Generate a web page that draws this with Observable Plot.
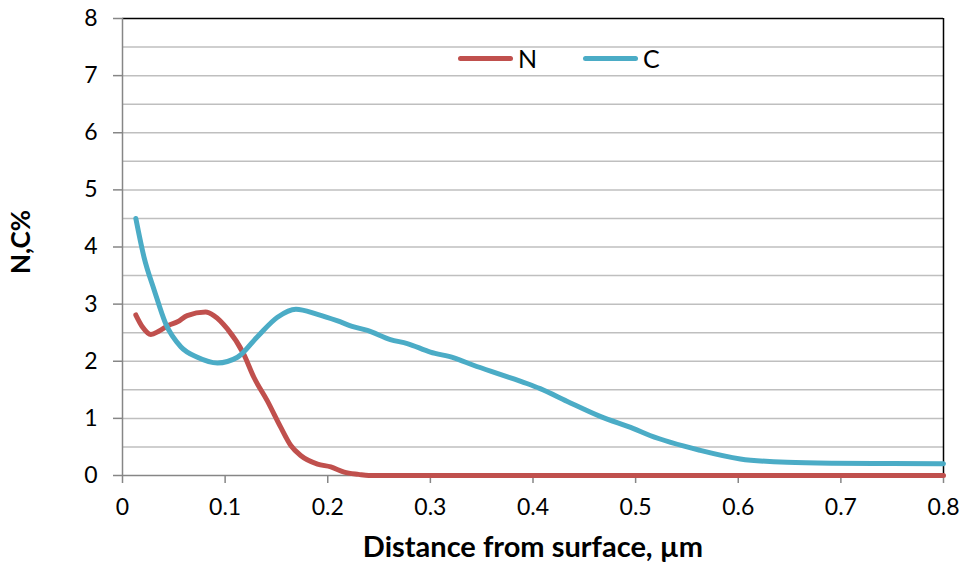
<!DOCTYPE html>
<html>
<head>
<meta charset="utf-8">
<script src="https://cdn.jsdelivr.net/npm/d3@7"></script>
<script src="https://cdn.jsdelivr.net/npm/@observablehq/plot@0.6"></script>
<style>
  html, body { margin: 0; padding: 0; background: #fff; }
  #wrap { position: relative; width: 963px; height: 574px; font-family: Lato, "Open Sans", sans-serif; }
  #legend { position: absolute; top: 43px; left: 458px; display: flex; align-items: center; font-size: 25px; line-height: 30px; color: #000; }
  #legend .item { display: flex; align-items: center; margin-right: 46px; }
  #legend .sw { width: 55px; height: 5px; border-radius: 3px; margin-right: 5px; }
</style>
</head>
<body>
<div id="wrap"></div>
<script>
// Data
const seriesNames = ["N", "C"];
const seriesColors = ["#C0504D", "#4BACC6"];
const xN = [0.013,0.0195,0.0276,0.0357,0.045,0.0536,0.063,0.081,0.089,0.102,0.118,0.128,0.141,0.154,0.164,0.1736,0.19,0.203,0.216,0.23,0.24,0.3,0.4,0.5,0.6,0.7,0.8];
const yN = [2.81,2.60,2.47,2.53,2.63,2.69,2.80,2.86,2.80,2.57,2.13,1.72,1.31,0.85,0.525,0.35,0.20,0.15,0.06,0.02,0,0,0,0,0,0,0];
const xC = [0.013,0.021,0.031,0.042,0.057,0.073,0.0925,0.112,0.131,0.151,0.169,0.19,0.209,0.2255,0.2386,0.261,0.2775,0.300,0.323,0.342,0.368,0.394,0.407,0.433,0.466,0.498,0.514,0.563,0.602,0.6475,0.693,0.75,0.8];
const yC = [4.5,3.82,3.24,2.66,2.25,2.07,1.97,2.07,2.42,2.77,2.91,2.82,2.71,2.60,2.54,2.38,2.31,2.16,2.06,1.93,1.77,1.61,1.52,1.30,1.03,0.82,0.70,0.44,0.29,0.23,0.215,0.21,0.205];
const xTicks = [0, 0.1, 0.2, 0.3, 0.4, 0.5, 0.6, 0.7, 0.8];
const yTicks = [0, 1, 2, 3, 4, 5, 6, 7, 8];
const yGrid = [0.5, 1, 1.5, 2, 2.5, 3, 3.5, 4, 4.5, 5, 5.5, 6, 6.5, 7, 7.5];
const xTitle = "Distance from surface, µm";
const yTitle = "N,C%";

const dataN = xN.map((x, i) => ({x, y: yN[i], s: "N"}));
const dataC = xC.map((x, i) => ({x, y: yC[i], s: "C"}));

const plot = Plot.plot({
  width: 963,
  height: 574,
  marginLeft: 122,
  marginRight: 20,
  marginTop: 18,
  marginBottom: 99,
  style: {fontFamily: "Lato, 'Open Sans', sans-serif", fontSize: "23px", color: "#000", background: "#fff"},
  x: {domain: [0, 0.8]},
  y: {domain: [0, 8]},
  marks: [
    Plot.gridY(yGrid, {stroke: "#bfbfbf", strokeOpacity: 1, strokeWidth: 1.5}),
    Plot.ruleY([8], {stroke: "#000", strokeWidth: 1.5}),
    Plot.ruleX([0.8], {stroke: "#000", strokeWidth: 1.5}),
    Plot.ruleX([0], {stroke: "#868686", strokeWidth: 1.5}),
    Plot.ruleY([0], {stroke: "#868686", strokeWidth: 1.5}),
    Plot.axisY(yTicks, {tickSize: 9, tickPadding: 16, fontSize: 23, stroke: "#868686", strokeWidth: 1.5, label: null, tickFormat: d => String(d), fill: "#000"}),
    Plot.axisX(xTicks, {tickSize: 8, tickPadding: 15, fontSize: 23, stroke: "#868686", strokeWidth: 1.5, label: null, tickFormat: d => String(d), fill: "#000"}),
    Plot.line(dataN, {x: "x", y: "y", stroke: seriesColors[0], strokeWidth: 5, curve: "monotone-x"}),
    Plot.line(dataC, {x: "x", y: "y", stroke: seriesColors[1], strokeWidth: 5, curve: "monotone-x"}),
    Plot.text([xTitle], {frameAnchor: "bottom", dy: 81, fontSize: 29, fontWeight: "bold", fill: "#000"}),
    Plot.text([yTitle], {frameAnchor: "left", textAnchor: "middle", dx: -101, dy: -5, rotate: -90, fontSize: 26, fontWeight: "bold", fill: "#000"})
  ]
});

const wrap = document.getElementById("wrap");
wrap.appendChild(plot);
const legend = document.createElement("div");
legend.id = "legend";
seriesNames.forEach((name, i) => {
  const item = document.createElement("div");
  item.className = "item";
  const sw = document.createElement("div");
  sw.className = "sw";
  sw.style.background = seriesColors[i];
  const lab = document.createElement("span");
  lab.textContent = name;
  item.appendChild(sw);
  item.appendChild(lab);
  legend.appendChild(item);
});
wrap.appendChild(legend);
</script>
</body>
</html>
